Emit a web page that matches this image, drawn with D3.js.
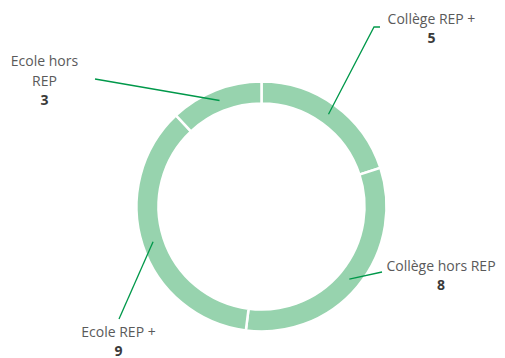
<!DOCTYPE html>
<html><head><meta charset="utf-8">
<script src="https://cdn.jsdelivr.net/npm/d3@7"></script>
<style>
html,body{margin:0;padding:0;background:#fff;}
svg{display:block;font-family:"Open Sans",sans-serif;}
</style></head>
<body><div id="chart"></div>
<script>
const categories = ["Collège REP +", "Collège hors REP", "Ecole REP +", "Ecole hors REP"];
const values = [5, 8, 9, 3];

const W = 505, H = 358;
const cx = 261.5, cy = 206.5;
const rOuter = 125, rInner = 103;

const labelLayout = [
  {lines:["Collège REP +"], x:431.5, y:24, end:[374,27], elbow:[380,27]},
  {lines:["Collège hors REP"], x:441, y:271, end:[382,272], elbow:null},
  {lines:["Ecole REP +"], x:118.5, y:337, end:[119,319], elbow:null},
  {lines:["Ecole hors","REP"], x:44.5, y:66, end:[95,79], elbow:null}
];

const svg = d3.select("#chart").append("svg").attr("width", W).attr("height", H);
const g = svg.append("g").attr("transform", `translate(${cx},${cy})`);

const pie = d3.pie().sort(null).value(d => d)(values);
const arc = d3.arc().innerRadius(rInner).outerRadius(rOuter);
const midArc = d3.arc().innerRadius(114).outerRadius(114);

g.selectAll("path.slice").data(pie).join("path")
  .attr("class","slice")
  .attr("d", arc)
  .attr("fill", "#97d3ae")
  .attr("stroke", "#fff")
  .attr("stroke-width", 2.5);

pie.forEach((d, i) => {
  const c = midArc.centroid(d);
  const L = labelLayout[i];
  const pts = [[cx + c[0], cy + c[1]], L.end];
  if (L.elbow) pts.push(L.elbow);
  svg.append("path")
    .attr("d", d3.line()(pts))
    .attr("fill", "none")
    .attr("stroke", "#00984a")
    .attr("stroke-width", 1.3);
  const t = svg.append("text").attr("text-anchor","middle").attr("x", L.x).attr("y", L.y);
  L.lines.forEach((ln, k) => {
    t.append("tspan").attr("x", L.x).attr("dy", k === 0 ? 0 : 20)
      .attr("fill", "#5a5a5a").attr("font-size", 14).text(ln);
  });
  t.append("tspan").attr("x", L.x).attr("dy", 18.5)
    .attr("fill", "#3a3a3a").attr("font-size", 14).attr("font-weight", "bold").text(values[i]);
});
</script>
</body></html>
